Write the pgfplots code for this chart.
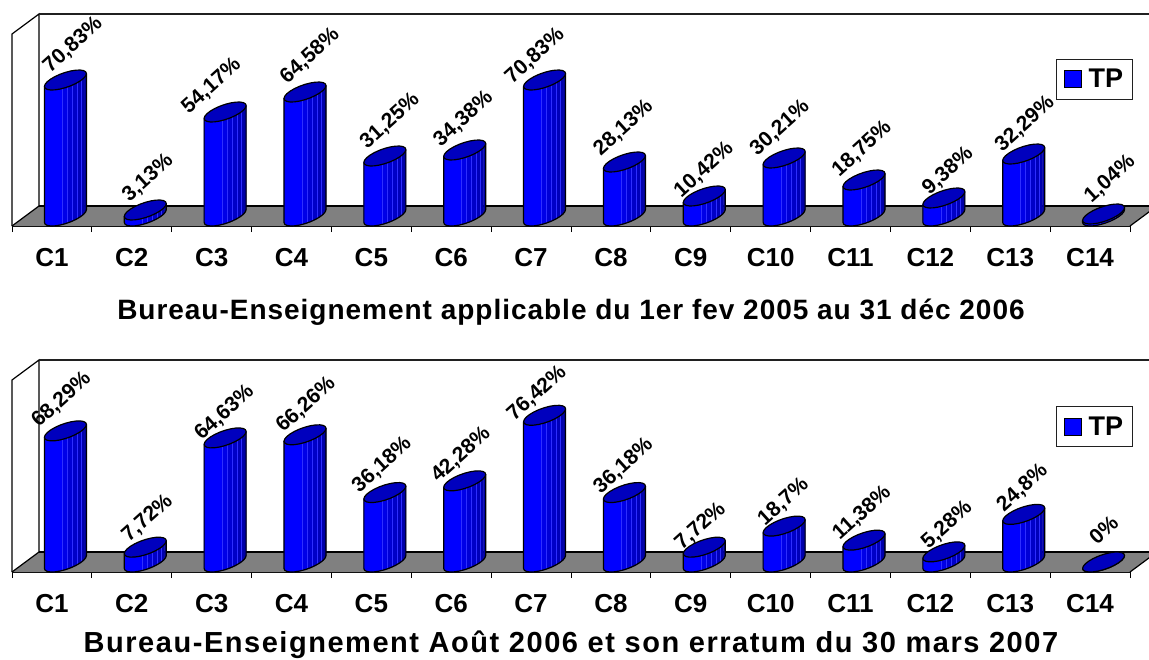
\documentclass[border=0pt]{standalone}
\usepackage{fontspec}
\setmainfont{Liberation Sans}
\usepackage{pgfplots}
\usepackage{pgfplotstable}
\pgfplotsset{compat=1.18}
\definecolor{band0}{HTML}{0000FF}
\definecolor{band1}{HTML}{0000E8}
\definecolor{band2}{HTML}{0000D6}
\definecolor{band3}{HTML}{0000C8}
\definecolor{band4}{HTML}{0000BA}
\definecolor{band5}{HTML}{0000AE}
\definecolor{band6}{HTML}{0000A4}
\definecolor{topblue}{HTML}{0000BE}
\definecolor{floorgray}{HTML}{808080}
\definecolor{frameblack}{HTML}{202020}
\newcommand\band[5]{\fill[#1] (#2,{#3-\h}) -- (#4,{#5-\h}) -- (#4,#5) -- (#2,#3) -- cycle;}
\newcommand\bline[2]{\draw[blue!82!white,line width=0.45pt] (#1,{#2-\h}) -- (#1,#2);}
\pgfdeclareplotmark{cyl}{%
  \pgfmathsetmacro\h{\val*1.92}%
  \begin{scope}[x=1pt,y=1pt]
    \fill[band0] (-7.5,3.57) -- (-7.5,{3.57-\h}) -- (-6.78,{1.81-\h}) -- (-4.69,{0.6-\h}) -- (-1.35,{0.04-\h}) -- (3,{0.15-\h}) -- (8.06,{0.94-\h}) -- (10.5,{1.5-\h}) -- (10.5,1.5) -- (8.06,0.94) -- (3,0.15) -- (-1.35,0.04) -- (-4.69,0.6) -- (-6.78,1.81) -- cycle;
    \band{band1}{10.5}{1.5}{15.5}{2.99}
    \band{band2}{15.5}{2.99}{20.5}{4.93}
    \band{band3}{20.5}{4.93}{25.5}{7.38}
    \band{band4}{25.5}{7.38}{29.5}{9.93}
    \band{band5}{29.5}{9.93}{32.5}{12.55}
    \band{band6}{32.5}{12.55}{34.5}{16.43}
    \bline{10.5}{1.5}\bline{15.5}{2.99}\bline{20.5}{4.93}\bline{25.5}{7.38}\bline{29.5}{9.93}
    \draw[black,line width=1.2pt,line join=round] (-7.5,3.57) -- (-7.5,{3.57-\h}) -- (-6.78,{1.81-\h}) -- (-4.69,{0.6-\h}) -- (-1.35,{0.04-\h}) -- (3,{0.15-\h}) -- (8.06,{0.94-\h}) -- (13.5,{2.34-\h}) -- (18.94,{4.26-\h}) -- (24,{6.58-\h}) -- (28.35,{9.13-\h}) -- (31.69,{11.74-\h}) -- (33.78,{14.23-\h}) -- (34.5,{16.43-\h}) -- (34.5,16.43);
    \draw[fill=topblue,draw=black,line width=1.2pt,line join=round] (-7.5,3.57) -- (-6.78,1.81) -- (-4.69,0.6) -- (-1.35,0.04) -- (3,0.15) -- (8.06,0.94) -- (13.5,2.34) -- (18.94,4.26) -- (24,6.58) -- (28.35,9.13) -- (31.69,11.74) -- (33.78,14.23) -- (34.5,16.43) -- (33.78,18.19) -- (31.69,19.40) -- (28.35,19.96) -- (24,19.85) -- (18.94,19.06) -- (13.5,17.66) -- (8.06,15.74) -- (3,13.42) -- (-1.35,10.87) -- (-4.69,8.26) -- (-6.78,5.77) -- cycle;
  \end{scope}%
}
\pgfplotstableread{
i v
0 70.83
1 3.13
2 54.17
3 64.58
4 31.25
5 34.38
6 70.83
7 28.13
8 10.42
9 30.21
10 18.75
11 9.38
12 32.29
13 1.04
}\tableA
\pgfplotstableread{
i v
0 68.29
1 7.72
2 64.63
3 66.26
4 36.18
5 42.28
6 76.42
7 36.18
8 7.72
9 18.7
10 11.38
11 5.28
12 24.8
13 0
}\tableB
% placement of the rotated value labels, relative to the top of each cylinder
\def\dxA{7.6,2.7,-13.6,5,5.2,-1.2,-9.6,-0.9,-0.3,-4.1,-2,4.1,1.3,6.4}
\def\dyA{35,32,26,36,35,31,24,34,26,30,31,27,30,35}
\def\dxB{-3.9,2.2,-0.6,1,-2.8,-3.7,-7.6,-0.9,-3.8,-0.6,-2,3.1,-1.2,0}
\def\dyB{31,29,25,30,27.5,26,22,26.5,21,24,27,27,26.5,32.5}
\pgfplotsset{
  cylchart/.style={
    scale only axis, width=1118pt, height=192pt, anchor=south west,
    xmin=-0.5, xmax=13.5, ymin=0, ymax=100, clip=false,
    axis x line*=bottom, axis y line=none,
    axis line style={black,line width=1.2pt},
    xtick={0,...,13}, minor xtick={-0.5,0.5,...,13.5},
    xticklabels={C1,C2,C3,C4,C5,C6,C7,C8,C9,C10,C11,C12,C13,C14},
    major tick length=0pt, minor tick length=6pt, tick align=outside,
    tick style={black,line width=1pt},
    xticklabel style={font=\fontsize{26}{26}\selectfont\bfseries,anchor=center,yshift=-32pt},
    xlabel style={anchor=center,at={(axis description cs:0.5,0)}},
    /pgf/number format/assume math mode=true,
    /pgf/number format/fixed, /pgf/number format/precision=2, /pgf/number format/use comma,
    legend style={anchor=north east, draw=frameblack, line width=1pt,
      font=\fontsize{27}{27}\selectfont\bfseries, inner xsep=7.5pt, inner ysep=8pt,
      /tikz/every odd column/.append style={column sep=5pt}},
  },
  cylplot/.style 2 args={
    only marks, mark=cyl, forget plot,
    visualization depends on={rawy \as \val},
    visualization depends on={value \coordindex \as \ci},
    point meta=explicit,
    nodes near coords={\pgfmathprintnumber{\pgfplotspointmeta}\%},
    every node near coord/.style={font=\fontsize{21}{21}\selectfont\bfseries, text=black, anchor=center,
      inner sep=0pt, xshift={(13.5+{#1}[\ci])*1pt}, yshift={(10+{#2}[\ci])*1pt}, rotate=42},
  },
}
\newcommand\frameAndFloor{%
  \fill[floorgray] (axis cs:-0.5,0) -- (axis cs:13.5,0) -- (axis cs:13.838,10.42) -- (axis cs:-0.162,10.42) -- cycle;
  \draw[black,line width=1.2pt] (axis cs:-0.162,10.42) -- (axis cs:13.838,10.42);
  \draw[black,line width=1.2pt] (axis cs:13.5,0) -- (axis cs:13.838,10.42);
  \draw[black,line width=1.2pt] (axis cs:-0.5,0) -- (axis cs:-0.162,10.42);
  \draw[black,line width=1.2pt] (axis cs:-0.5,0) -- (axis cs:-0.5,100) -- (axis cs:-0.162,110.42) -- (axis cs:-0.162,10.42);
  \draw[frameblack,line width=1.5pt] (axis cs:-0.162,110.42) -- (axis cs:13.838,110.42);
}
\newcommand\legendSwatch{\addlegendimage{legend image code/.code={\draw[fill=blue,draw=black,line width=1pt] (0pt,-8.5pt) rectangle (17pt,8.5pt);}}\addlegendentry{TP}}
\begin{document}
\begin{tikzpicture}
\useasboundingbox (0,0) rectangle (1149pt,-659pt);
\clip (0,0) rectangle (1149pt,-659pt);
\begin{axis}[cylchart, at={(12pt,-226pt)},
  xlabel={Bureau-Enseignement applicable du 1er fev 2005 au 31 déc 2006},
  xlabel style={font=\fontsize{28}{28}\selectfont\bfseries\addfontfeature{LetterSpace=3.5},yshift=-86pt},
  legend style={at={(1.0027,0.872)}}]
\frameAndFloor
\addplot[cylplot={\dxA}{\dyA}] table[x=i,y=v,meta=v] {\tableA};
\legendSwatch
\end{axis}
\begin{axis}[cylchart, at={(12pt,-572pt)},
  xlabel={Bureau-Enseignement Août 2006 et son erratum du 30 mars 2007},
  xlabel style={font=\fontsize{29}{29}\selectfont\bfseries\addfontfeature{LetterSpace=5.3},yshift=-73pt},
  legend style={at={(1.0027,0.863)}}]
\frameAndFloor
\addplot[cylplot={\dxB}{\dyB}] table[x=i,y=v,meta=v] {\tableB};
\legendSwatch
\end{axis}
\end{tikzpicture}
\end{document}
